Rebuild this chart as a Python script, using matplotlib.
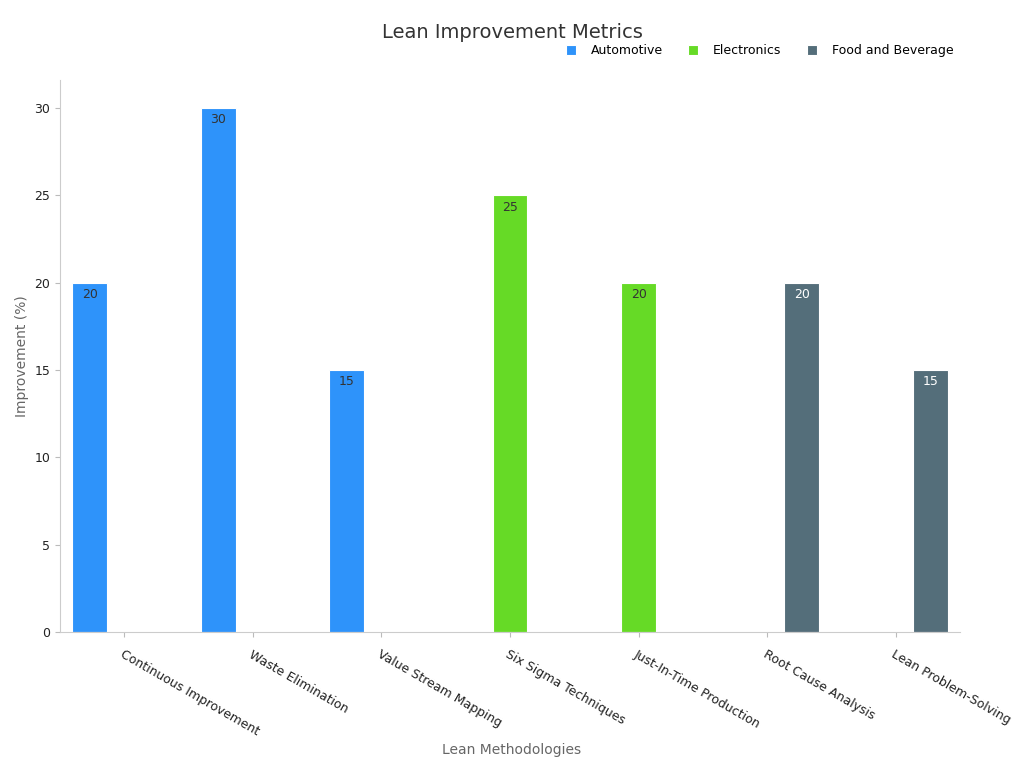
import matplotlib
matplotlib.use("Agg")
import matplotlib.pyplot as plt
import numpy as np

categories = ["Continuous Improvement", "Waste Elimination", "Value Stream Mapping",
              "Six Sigma Techniques", "Just-In-Time Production", "Root Cause Analysis",
              "Lean Problem-Solving"]
series_names = ["Automotive", "Electronics", "Food and Beverage"]
automotive = [20, 30, 15, 0, 0, 0, 0]
electronics = [0, 0, 0, 25, 20, 0, 0]
food_bev = [0, 0, 0, 0, 0, 20, 15]
colors = ["#2E93FA", "#66DA26", "#546E7A"]
label_colors = ["#333333", "#333333", "#ffffff"]

fig = plt.figure(figsize=(10.24, 7.68), dpi=100)
ax = fig.add_axes([60/1024, 1-632/768, 900/1024, (632-80)/768])
x = np.arange(len(categories))
w = 0.27
for i, (vals, c, lc, name) in enumerate(zip([automotive, electronics, food_bev], colors, label_colors, series_names)):
    off = (i - 1) * w
    ax.bar(x + off, vals, w, color=c, edgecolor="white", linewidth=0.8, label=name)
    for xi, v in zip(x, vals):
        if v > 0:
            ax.text(xi + off, v - 0.3, str(v), ha="center", va="top", fontsize=9, color=lc)

ax.set_xlim(-0.5, len(categories) - 0.5)
ax.set_ylim(0, 31.6)
ax.set_yticks([0, 5, 10, 15, 20, 25, 30])
ax.set_xticks(x)
ax.set_xticklabels(categories, rotation=-30, ha="left", rotation_mode="anchor", fontsize=9, color="#222222")
ax.tick_params(axis="x", pad=8)
ax.tick_params(axis="y", labelsize=9)
ax.tick_params(colors="#bbbbbb", labelcolor="#222222")
for s in ["top", "right"]:
    ax.spines[s].set_visible(False)
for s in ["left", "bottom"]:
    ax.spines[s].set_color("#cccccc")
ax.set_ylabel("Improvement (%)", fontsize=10, color="#666666")
fig.text(0.5, 1-750/768, "Lean Methodologies", ha="center", va="center", fontsize=10, color="#666666")
fig.text(0.5, 1-33/768, "Lean Improvement Metrics", ha="center", va="center", fontsize=14, color="#333333")
ax.legend(loc="upper right", bbox_to_anchor=(1.005, 1.085), ncol=3, frameon=False, fontsize=9,
          handlelength=0.8, handleheight=0.8, columnspacing=2.0, handletextpad=1.2)
fig.savefig("out.png", dpi=100)
